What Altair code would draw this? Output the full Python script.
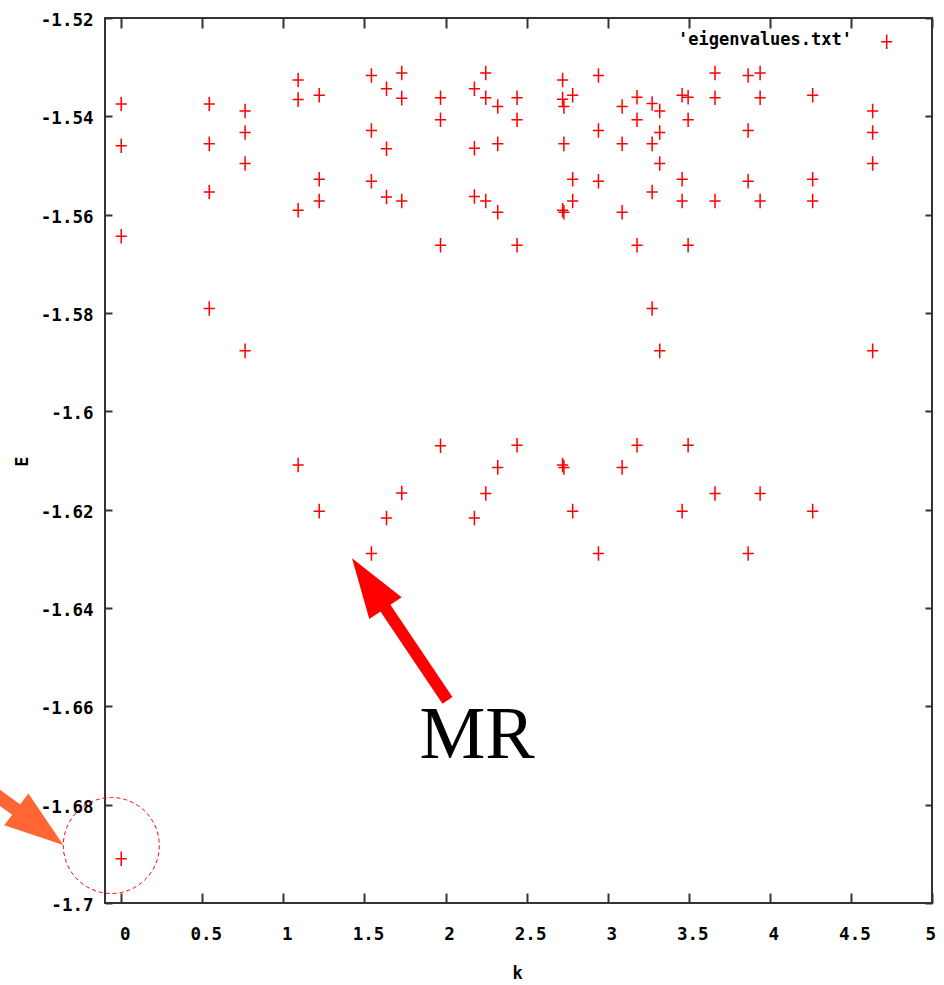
import altair as alt
import pandas as pd

# ---- data ----
k = (
    [0.0] * 4
    + [0.543] * 4 + [0.764] * 4 + [1.091] * 4 + [1.221] * 4
    + [1.543] * 4 + [1.636] * 4 + [1.730] * 4 + [1.969] * 4
    + [2.178] * 4 + [2.248] * 4 + [2.322] * 4 + [2.441] * 4
    + [2.722] * 4 + [2.730] * 4 + [2.784] * 4 + [2.943] * 4
    + [3.089] * 4 + [3.181] * 4 + [3.274] * 4 + [3.321] * 4
    + [3.459] * 4 + [3.496] * 4 + [3.662] * 4 + [3.866] * 4
    + [3.940] * 4 + [4.264] * 4 + [4.634] * 4
)
E = [
    -1.5375, -1.5460, -1.5644, -1.6910,
    -1.5375, -1.5456, -1.5554, -1.5791,
    -1.5389, -1.5433, -1.5496, -1.5877,
    -1.5326, -1.5366, -1.5591, -1.6109,
    -1.5357, -1.5528, -1.5572, -1.6203,
    -1.5317, -1.5429, -1.5532, -1.6289,
    -1.5344, -1.5466, -1.5564, -1.6217,
    -1.5312, -1.5363, -1.5572, -1.6166,
    -1.5362, -1.5407, -1.5662, -1.6070,
    -1.5344, -1.5465, -1.5563, -1.6217,
    -1.5312, -1.5362, -1.5572, -1.6167,
    -1.5380, -1.5456, -1.5595, -1.6114,
    -1.5362, -1.5407, -1.5662, -1.6069,
    -1.5326, -1.5365, -1.5591, -1.6109,
    -1.5380, -1.5456, -1.5595, -1.6114,
    -1.5357, -1.5528, -1.5572, -1.6203,
    -1.5317, -1.5429, -1.5532, -1.6289,
    -1.5380, -1.5456, -1.5595, -1.6114,
    -1.5361, -1.5407, -1.5662, -1.6069,
    -1.5374, -1.5456, -1.5554, -1.5791,
    -1.5389, -1.5433, -1.5496, -1.5877,
    -1.5357, -1.5528, -1.5572, -1.6203,
    -1.5361, -1.5407, -1.5662, -1.6069,
    -1.5312, -1.5362, -1.5572, -1.6167,
    -1.5317, -1.5429, -1.5532, -1.6289,
    -1.5312, -1.5362, -1.5572, -1.6167,
    -1.5357, -1.5528, -1.5572, -1.6203,
    -1.5389, -1.5433, -1.5496, -1.5877,
]
x_ticks = [0, 0.5, 1, 1.5, 2, 2.5, 3, 3.5, 4, 4.5, 5]
y_ticks = [-1.7, -1.68, -1.66, -1.64, -1.62, -1.6, -1.58, -1.56, -1.54, -1.52]
legend_label = ["'eigenvalues.txt'"]

# annotations (in data units)
mr_shaft_k = [1.596, 2.012]
mr_shaft_E = [-1.6384, -1.6588]
mr_tip_k = [1.4233]
mr_tip_E = [-1.6299]
mr_text = ["MR"]
mr_text_k = [2.194]
mr_text_E = [-1.6705]
or_shaft_k = [-0.874, -0.627]
or_shaft_E = [-1.6756, -1.6815]
or_tip_k = [-0.357]
or_tip_E = [-1.6882]
circle_k = [-0.061]
circle_E = [-1.6883]

XMIN, XMAX = -0.1, 5.0
YMIN, YMAX = -1.7, -1.52
W, H = 827, 885
FONT = "DejaVu Sans Mono"
FRAME = "#333333"
RED = "#ff0000"
ORANGE = "#ff6633"
XT, YT = 10, 7  # inward tick lengths (px)
TW = 2

xs = alt.Scale(domain=[XMIN, XMAX], nice=False, zero=False)
ys = alt.Scale(domain=[YMIN, YMAX], nice=False, zero=False)

# axes are pulled inside the frame by a negative offset, so their (outward)
# ticks end on the frame line: gnuplot-style inward ticks
x_axis = alt.Axis(
    orient="bottom", offset=-XT, values=x_ticks, labelExpr="'' + datum.value",
    ticks=True, tickSize=XT, tickColor=FRAME, tickWidth=TW, tickOpacity=1,
    domain=False, grid=False, labelFont=FONT, labelFontWeight="bold",
    labelFontSize=17.5, labelColor="black", labelPadding=22, labelOffset=3.5,
    labelOverlap=False, title="k", titleX=412, titleY=70 + XT,
    titleBaseline="middle", titleAlign="center", titleFont=FONT,
    titleFontSize=17, titleFontWeight="bold", titleColor="black",
)
y_axis = alt.Axis(
    orient="left", offset=-YT, values=y_ticks, labelExpr="'' + datum.value",
    ticks=True, tickSize=YT, tickColor=FRAME, tickWidth=TW, tickOpacity=1,
    domain=False, grid=False, labelFont=FONT, labelFontWeight="bold",
    labelFontSize=17.5, labelColor="black", labelPadding=12, labelOffset=2.5,
    labelOverlap=False, title="E", titleX=-83 - YT, titleY=443, titleAngle=270,
    titleBaseline="middle", titleAlign="center", titleFont=FONT,
    titleFontSize=17, titleFontWeight="bold", titleColor="black",
)
x_axis_top = alt.Axis(
    orient="top", offset=-XT, values=x_ticks, ticks=True, tickSize=XT,
    tickColor=FRAME, tickWidth=TW, tickOpacity=1, labels=False, domain=False,
    grid=False, title=None,
)
y_axis_right = alt.Axis(
    orient="right", offset=-YT, values=y_ticks, ticks=True, tickSize=YT,
    tickColor=FRAME, tickWidth=TW, tickOpacity=1, labels=False, domain=False,
    grid=False, title=None,
)
X = alt.X("k:Q", scale=xs, axis=x_axis)
Y = alt.Y("E:Q", scale=ys, axis=y_axis)

df = pd.DataFrame({"k": k, "E": E})

CROSS = "M-1,0L1,0M0,-1.3L0,1.3"
points = alt.Chart(df).mark_point(
    shape=CROSS, size=125, filled=False, stroke=RED, strokeWidth=1.5, opacity=1
).encode(x=X, y=Y)

mr_shaft = alt.Chart(pd.DataFrame({"k": mr_shaft_k, "E": mr_shaft_E})).mark_line(
    color=RED, strokeWidth=12, strokeCap="butt").encode(x=X, y=Y)
mr_head = alt.Chart(pd.DataFrame({"k": mr_tip_k, "E": mr_tip_E})).mark_point(
    shape="M0,0L-19.5,60L19.5,60Z", size=4, filled=True, fill=RED,
    strokeWidth=0, opacity=1, angle=326.1).encode(x=X, y=Y)
mr_label = alt.Chart(pd.DataFrame({"k": mr_text_k, "E": mr_text_E, "t": mr_text})).mark_text(
    font="Liberation Serif", fontSize=74, align="center", baseline="alphabetic",
    color="black").encode(x=X, y=Y, text="t:N")

or_shaft = alt.Chart(pd.DataFrame({"k": or_shaft_k, "E": or_shaft_E})).mark_line(
    color=ORANGE, strokeWidth=13, strokeCap="butt").encode(x=X, y=Y)
or_head = alt.Chart(pd.DataFrame({"k": or_tip_k, "E": or_tip_E})).mark_point(
    shape="M0,0L-20,59L20,59Z", size=4, filled=True, fill=ORANGE,
    strokeWidth=0, opacity=1, angle=127.2).encode(x=X, y=Y)

circle = alt.Chart(pd.DataFrame({"k": circle_k, "E": circle_E})).mark_point(
    shape="circle", size=96 * 96, filled=False, stroke=RED, strokeWidth=1,
    strokeDash=[4, 3], opacity=1).encode(x=X, y=Y)

leg_df = pd.DataFrame({"label": legend_label})
leg_text = alt.Chart(leg_df).mark_text(
    font=FONT, fontWeight="bold", fontSize=17, align="right",
    baseline="alphabetic", color="black").encode(
    x=alt.value(747), y=alt.value(27), text="label:N")
leg_sym = alt.Chart(leg_df).mark_point(
    shape=CROSS, size=125, filled=False, stroke=RED, strokeWidth=1.5, opacity=1
).encode(x=alt.value(781.7), y=alt.value(23.7))

main = alt.layer(
    points, mr_shaft, mr_head, mr_label, or_shaft, or_head, circle,
    leg_text, leg_sym,
)

# invisible layer that only carries the mirrored top/right tick axes
mirror = alt.Chart(df).mark_point(opacity=0).encode(
    x=alt.X("k:Q", scale=xs, axis=x_axis_top),
    y=alt.Y("E:Q", scale=ys, axis=y_axis_right),
)

chart = alt.layer(main, mirror).resolve_axis(
    x="independent", y="independent"
).properties(
    width=W, height=H,
    autosize=alt.AutoSizeParams(type="none"),
    padding={"left": 105, "top": 18, "right": 12, "bottom": 82},
    background="white",
).configure_view(stroke=FRAME, strokeWidth=2)

chart.save("out.html", embed_options={"renderer": "svg", "actions": False})
